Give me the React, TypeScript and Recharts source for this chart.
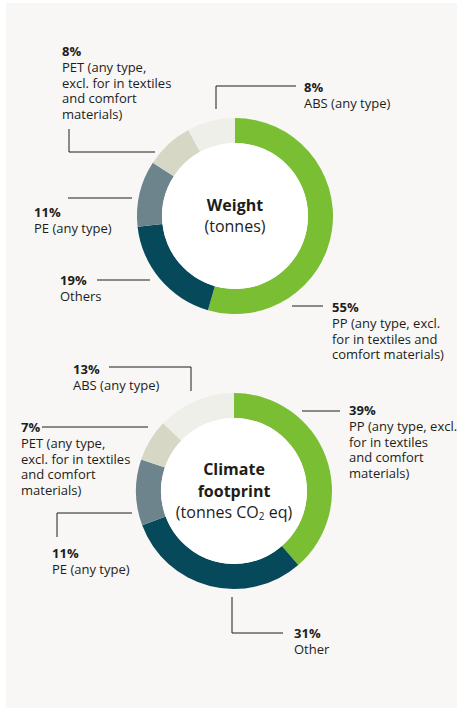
import React from "react"
import { PieChart, Pie, Cell } from "recharts"

const weightCategories = ["PP", "Others", "PE", "PET", "ABS"]
const weightValues = [55, 19, 11, 8, 8]
const weightLabels = [
  ["PP (any type, excl.", "for in textiles and", "comfort materials)"],
  ["Others"],
  ["PE (any type)"],
  ["PET (any type,", "excl. for in textiles", "and comfort", "materials)"],
  ["ABS (any type)"],
]

const climateCategories = ["PP", "Other", "PE", "PET", "ABS"]
const climateValues = [39, 31, 11, 7, 13]
const climateLabels = [
  ["PP (any type, excl.", "for in textiles", "and comfort", "materials)"],
  ["Other"],
  ["PE (any type)"],
  ["PET (any type,", "excl. for in textiles", "and comfort", "materials)"],
  ["ABS (any type)"],
]

const colors = ["#7abf33", "#06495a", "#6e848c", "#d7d7c6", "#eeefe8"]
const ink = "#1d1d1b"
const font = "'Open Sans', sans-serif"

// leader line points and text anchor (x, first baseline) per slice
const weightCallouts = [
  { line: [[292, 306], [323, 306]], x: 332, y: 312 },
  { line: [[150, 280], [97, 280]], x: 60, y: 285 },
  { line: [[132, 198], [68, 198]], x: 34, y: 217 },
  { line: [[155, 152], [69, 152], [69, 129]], x: 62, y: 56 },
  { line: [[216, 109], [216, 86], [296, 86]], x: 304, y: 92 },
]
const climateCallouts = [
  { line: [[302, 411], [340, 411]], x: 349, y: 415 },
  { line: [[232, 597], [232, 633], [283, 633]], x: 294, y: 638 },
  { line: [[132, 513], [57, 513], [57, 537]], x: 52, y: 558 },
  { line: [[148, 427], [42, 427]], x: 21, y: 432 },
  { line: [[109, 367], [191, 367], [191, 391]], x: 73, y: 374 },
]

const weightData = weightCategories.map((name, i) => ({ name, value: weightValues[i] }))
const climateData = climateCategories.map((name, i) => ({ name, value: climateValues[i] }))

function makeLabel(values: number[], labels: string[][], callouts: any[], center: (cx: number, cy: number) => React.ReactNode) {
  return (props: any) => {
    const { index, cx, cy, innerRadius } = props
    const c = callouts[index]
    return (
      <g key={`lbl-${index}`}>
        {index === 0 && (
          <g>
            <circle cx={cx} cy={cy} r={innerRadius} fill="#ffffff" />
            {center(cx, cy)}
          </g>
        )}
        <polyline points={c.line.map((p: number[]) => p.join(",")).join(" ")} fill="none" stroke={ink} strokeWidth={1} />
        <text x={c.x} y={c.y} fill={ink} fontFamily={font} fontSize={13} fontWeight={700}>
          {values[index]}%
        </text>
        {labels[index].map((t, k) => (
          <text key={k} x={c.x} y={c.y + 15.8 * (k + 1)} fill={ink} fontFamily={font} fontSize={13}>
            {t}
          </text>
        ))}
      </g>
    )
  }
}

const weightCenter = (cx: number, cy: number) => (
  <g fill={ink} fontFamily={font} fontSize={16} textAnchor="middle">
    <text x={cx} y={cy - 5} fontWeight={700}>Weight</text>
    <text x={cx} y={cy + 16}>(tonnes)</text>
  </g>
)

const climateCenter = (cx: number, cy: number) => (
  <g fill={ink} fontFamily={font} fontSize={16} textAnchor="middle">
    <text x={cx} y={cy - 16} fontWeight={700}>Climate</text>
    <text x={cx} y={cy + 6} fontWeight={700}>footprint</text>
    <text x={cx} y={cy + 27}>
      (tonnes CO<tspan fontSize={10} dy={2}>2</tspan>
      <tspan dy={-2}> eq)</tspan>
    </text>
  </g>
)

export default function App() {
  return (
    <div style={{ position: "relative", width: 457, height: 709 }}>
      <style>{`body{margin:0}`}</style>
      <div style={{ position: "absolute", left: 6, top: 3, width: 451, height: 705, background: "#f8f7f5" }} />
      <div style={{ position: "absolute", left: 0, top: 0 }}>
        <PieChart width={457} height={709} margin={{ top: 0, right: 0, bottom: 0, left: 0 }}>
          <Pie
            data={weightData}
            dataKey="value"
            cx={235}
            cy={216}
            innerRadius={73}
            outerRadius={98}
            startAngle={90}
            endAngle={-270}
            stroke="none"
            isAnimationActive={false}
            labelLine={false}
            label={makeLabel(weightValues, weightLabels, weightCallouts, weightCenter)}
          >
            {weightData.map((d, i) => (
              <Cell key={`w-${i}`} fill={colors[i]} />
            ))}
          </Pie>
          <Pie
            data={climateData}
            dataKey="value"
            cx={234}
            cy={491}
            innerRadius={73}
            outerRadius={98}
            startAngle={90}
            endAngle={-270}
            stroke="none"
            isAnimationActive={false}
            labelLine={false}
            label={makeLabel(climateValues, climateLabels, climateCallouts, climateCenter)}
          >
            {climateData.map((d, i) => (
              <Cell key={`c-${i}`} fill={colors[i]} />
            ))}
          </Pie>
        </PieChart>
      </div>
    </div>
  )
}
